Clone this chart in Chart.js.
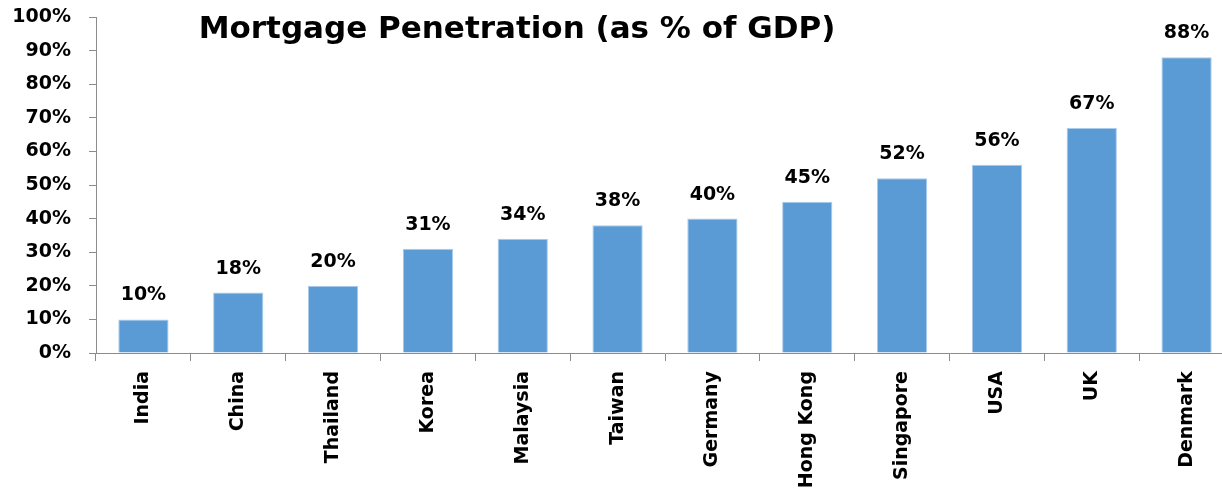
<!DOCTYPE html>
<html>
<head>
<meta charset="utf-8">
<script src="https://cdn.jsdelivr.net/npm/chart.js@4.4.0/dist/chart.umd.min.js"></script>
<style>
  html, body { margin: 0; padding: 0; background: #fff; overflow: hidden; }
  #wrap { position: relative; width: 1234px; height: 495px; }
</style>
</head>
<body>
<div id="wrap"><canvas id="c"></canvas></div>
<script>
const TITLE = 'Mortgage Penetration (as % of GDP)';
const categories = ['India', 'China', 'Thailand', 'Korea', 'Malaysia', 'Taiwan', 'Germany', 'Hong Kong', 'Singapore', 'USA', 'UK', 'Denmark'];
const penetration = [10, 18, 20, 31, 34, 38, 40, 45, 52, 56, 67, 88];
const yTicks = [0, 10, 20, 30, 40, 50, 60, 70, 80, 90, 100];

const FONT = '"DejaVu Sans", Verdana, sans-serif';
const AXIS = '#8c8c8c';

const labelPlugin = {
  id: 'barLabels',
  afterDatasetsDraw(chart) {
    const ctx = chart.ctx;
    const meta = chart.getDatasetMeta(0);
    ctx.save();
    ctx.font = 'bold 19px ' + FONT;
    ctx.fillStyle = '#000';
    ctx.textAlign = 'center';
    ctx.textBaseline = 'alphabetic';
    meta.data.forEach((bar, i) => {
      ctx.fillText(penetration[i] + '%', bar.x, bar.y - 19);
    });
    ctx.restore();
  }
};

const titlePlugin = {
  id: 'innerTitle',
  afterDraw(chart) {
    const ctx = chart.ctx;
    ctx.save();
    ctx.font = 'bold 31px ' + FONT;
    ctx.fillStyle = '#000';
    ctx.textAlign = 'center';
    ctx.textBaseline = 'alphabetic';
    ctx.fillText(TITLE, 517, 38);
    ctx.restore();
  }
};

new Chart(document.getElementById('c'), {
  type: 'bar',
  data: {
    labels: categories,
    datasets: [{
      data: penetration,
      backgroundColor: '#5b9bd5',
      borderColor: '#aacbea',
      borderWidth: 1,
      categoryPercentage: 1,
      barPercentage: 0.53
    }]
  },
  options: {
    responsive: true,
    maintainAspectRatio: false,
    animation: false,
    layout: { padding: { top: 17, right: 0, left: 0, bottom: 0 } },
    plugins: { legend: { display: false }, tooltip: { enabled: false }, title: { display: false } },
    scales: {
      x: {
        grid: { display: true, drawOnChartArea: false, drawTicks: true, tickLength: 8, color: AXIS, offset: true },
        border: { display: true, color: AXIS, width: 1 },
        ticks: {
          color: '#000',
          font: { family: FONT, size: 19, weight: 'bold' },
          minRotation: 90, maxRotation: 90,
          padding: 10,
          autoSkip: false
        },
        afterFit(scale) { scale.height = 142; scale.paddingLeft = 0; scale.paddingRight = 0; }
      },
      y: {
        min: 0, max: 100,
        afterBuildTicks(scale) { scale.ticks = yTicks.map(v => ({ value: v })); },
        grid: { display: true, drawOnChartArea: false, drawTicks: true, tickLength: 7, color: AXIS },
        border: { display: true, color: AXIS, width: 1 },
        ticks: {
          color: '#000',
          font: { family: FONT, size: 19, weight: 'bold' },
          padding: 18,
          callback: v => v + '%'
        },
        afterFit(scale) { scale.width = 96; scale.paddingTop = 0; scale.paddingBottom = 0; }
      }
    }
  },
  plugins: [labelPlugin, titlePlugin]
});
</script>
</body>
</html>
